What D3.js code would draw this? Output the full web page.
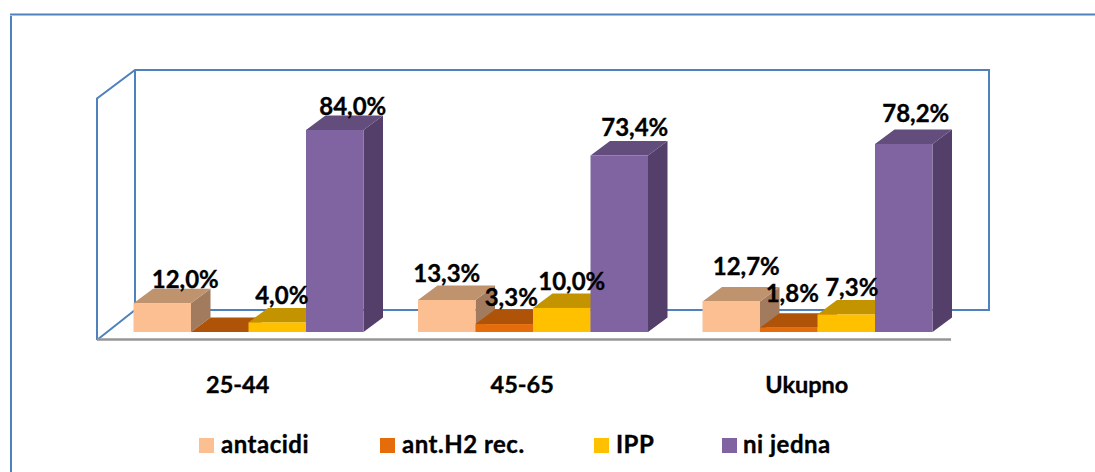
<!DOCTYPE html>
<html><head><meta charset="utf-8">
<script src="https://cdn.jsdelivr.net/npm/d3@7/dist/d3.min.js"></script>
<style>html,body{margin:0;padding:0;background:#fff}svg{display:block}text{font-family:Lato,sans-serif;font-weight:700;fill:#000;stroke:#000;stroke-width:.35px}</style>
</head><body><svg id="c" width="1095" height="472"></svg>
<script>
const categories = ["25-44","45-65","Ukupno"];
const seriesNames = ["antacidi","ant.H2 rec.","IPP","ni jedna"];
const antacidi = [12.0,13.3,12.7];
const antH2 = [0,3.3,1.8];
const ipp = [4.0,10.0,7.3];
const niJedna = [84.0,73.4,78.2];
const seriesValues = [antacidi,antH2,ipp,niJedna];
const front = ["#FCBF91","#E46C0A","#FFC000","#8064A2"];
const topc = ["#C0936F","#AF5308","#C49400","#624D7D"];
const side = ["#A27B5E","#934607","#A67D00","#533F6A"];
// hand placement of the data labels relative to each bar's top centre [category][series]
const labelDx = [[23,0,4.5,18],[0,7,10,15.5],[15,3.5,5.5,12]];
const labelDy = [[-15,0,-18,-15],[-18,-18,-18,-19.5],[-26,-26,-18,-22]];

const svg = d3.select("#c");
const blue = "#4F81BD";
const y = d3.scaleLinear().domain([0,100]).range([332,91.5]);
const gx = d3.scaleBand().domain(categories).range([104.5,958]);
const sx = d3.scaleBand().domain(d3.range(4)).range([0,230]);
const bdx = 19.5, bdy = -14.5;

const line = (x1,y1,x2,y2,c,w)=>svg.append("line").attr("x1",x1).attr("y1",y1).attr("x2",x2).attr("y2",y2).attr("stroke",c).attr("stroke-width",w);
line(10,14.5,1095,14.5,blue,2);
line(11,16,11,472,blue,2);
svg.append("path").attr("fill","none").attr("stroke",blue).attr("stroke-width",2)
  .attr("d","M97,340V98.5L135,70H989V310H135V70M97,340L135,310");
line(97,339.5,951,339.5,"#969696",2.5);

categories.forEach((cat,i)=>{
  const g = svg.append("g");
  const x0 = gx(cat)+29;
  seriesValues.forEach((vals,s)=>{
    const v = vals[i];
    const x = x0+sx(s), yt = y(v), yb = y(0), w = sx.bandwidth();
    g.append("polygon").attr("fill",side[s]).attr("points",[[x+w,yt],[x+w+bdx,yt+bdy],[x+w+bdx,yb+bdy],[x+w,yb]].join(" "));
    g.append("polygon").attr("fill",topc[s]).attr("points",[[x,yt],[x+bdx,yt+bdy],[x+w+bdx,yt+bdy],[x+w,yt]].join(" "));
    g.append("rect").attr("fill",front[s]).attr("x",x).attr("y",yt).attr("width",w).attr("height",yb-yt);
  });
});
const fmt = v=>d3.format(".1f")(v).replace(".",",")+"%";
categories.forEach((cat,i)=>{
  const x0 = gx(cat)+29;
  seriesValues.forEach((vals,s)=>{
    const v = vals[i];
    if(v===0) return;
    svg.append("text").attr("x",x0+sx(s)+sx.bandwidth()/2+labelDx[i][s]).attr("y",y(v)+labelDy[i][s])
      .attr("text-anchor","middle").attr("font-size",24).text(fmt(v));
  });
});
categories.forEach(cat=>{
  svg.append("text").attr("x",gx(cat)+gx.bandwidth()/2-9).attr("y",393).attr("text-anchor","middle").attr("font-size",23.5).text(cat);
});
const legendX = [199,380,594,722];
const legendGap = [22,22,22,21];
seriesNames.forEach((n,s)=>{
  svg.append("rect").attr("x",legendX[s]).attr("y",438).attr("width",15).attr("height",15).attr("fill",front[s]);
  svg.append("text").attr("x",legendX[s]+legendGap[s]).attr("y",453).attr("font-size",24).attr("letter-spacing",0.5).text(n);
});
</script></body></html>
